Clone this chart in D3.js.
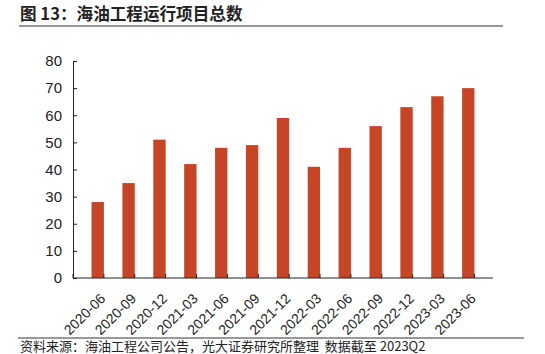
<!DOCTYPE html>
<html>
<head>
<meta charset="utf-8">
<script src="https://cdn.jsdelivr.net/npm/d3@7"></script>
<style>
  body { margin: 0; background: #fff; }
  svg { display: block; }
</style>
</head>
<body>
<svg id="chart" width="545" height="354"></svg>
<script>
const title = '图 13：海油工程运行项目总数';
const source = '资料来源：海油工程公司公告，光大证券研究所整理  数据截至 2023Q2';
const categories = ['2020-06', '2020-09', '2020-12', '2021-03', '2021-06', '2021-09', '2021-12',
                    '2022-03', '2022-06', '2022-09', '2022-12', '2023-03', '2023-06'];
const values = [28, 35, 51, 42, 48, 49, 59, 41, 48, 56, 63, 67, 70];
const yTicks = [0, 10, 20, 30, 40, 50, 60, 70, 80];

const svg = d3.select('#chart');
const margin = { left: 73, right: 52, top: 61, bottom: 76 };
const width = 545, height = 354;
const cjk = '"Noto Sans CJK SC", sans-serif';
const latin = '"Liberation Sans", Arial, sans-serif';

// Title + rule
svg.append('text')
    .attr('x', 20)
    .attr('y', 19.5)
    .style('font-family', cjk)
    .style('font-size', '16.6px')
    .style('font-weight', 'bold')
    .style('fill', '#222')
    .text(title);

svg.append('line')
    .attr('x1', 19).attr('x2', 503)
    .attr('y1', 26).attr('y2', 26)
    .attr('stroke', '#333')
    .attr('stroke-width', 1.2);

// Scales
const x = d3.scaleBand()
    .domain(categories)
    .range([margin.left, width - margin.right])
    .padding(0.6);

const y = d3.scaleLinear()
    .domain([0, 80])
    .range([height - margin.bottom, margin.top]);

// Bars
svg.append('g')
    .selectAll('rect')
    .data(values)
    .join('rect')
    .attr('x', (d, i) => x(categories[i]))
    .attr('y', d => y(d))
    .attr('width', x.bandwidth())
    .attr('height', d => y(0) - y(d))
    .attr('fill', '#C64527');

// Y axis (ticks pointing inward)
const yAxis = svg.append('g')
    .attr('transform', `translate(${margin.left},0)`)
    .call(d3.axisLeft(y).tickValues(yTicks).tickSize(-4).tickPadding(11));
yAxis.selectAll('text')
    .style('font-family', latin)
    .style('font-size', '15px')
    .style('fill', '#222');
yAxis.select('.domain').attr('stroke', '#222');
yAxis.selectAll('.tick line').attr('stroke', '#222');

// X axis: baseline + boundary ticks pointing up
const x0 = margin.left, x1 = width - margin.right, yb = y(0);
const step = x.step();
svg.append('line')
    .attr('x1', x0).attr('x2', x1)
    .attr('y1', yb).attr('y2', yb)
    .attr('stroke', '#222');
svg.append('g')
    .selectAll('line')
    .data(d3.range(categories.length + 1))
    .join('line')
    .attr('x1', i => x0 + i * step)
    .attr('x2', i => x0 + i * step)
    .attr('y1', yb)
    .attr('y2', yb - 4)
    .attr('stroke', '#222');

// X labels rotated
svg.append('g')
    .selectAll('text')
    .data(categories)
    .join('text')
    .attr('transform', d => `translate(${x(d) + x.bandwidth() / 2 + 5},${yb + 18}) rotate(-45)`)
    .attr('text-anchor', 'end')
    .attr('dy', '0.35em')
    .style('font-family', latin)
    .style('font-size', '14px')
    .style('fill', '#222')
    .text(d => d);

// Bottom rule + source
svg.append('line')
    .attr('x1', 18).attr('x2', 524)
    .attr('y1', 338).attr('y2', 338)
    .attr('stroke', '#333')
    .attr('stroke-width', 1);

svg.append('text')
    .attr('x', 20)
    .attr('y', 351)
    .style('font-family', cjk)
    .style('font-size', '13px')
    .style('fill', '#222')
    .style('white-space', 'pre')
    .text(source);
</script>
</body>
</html>
